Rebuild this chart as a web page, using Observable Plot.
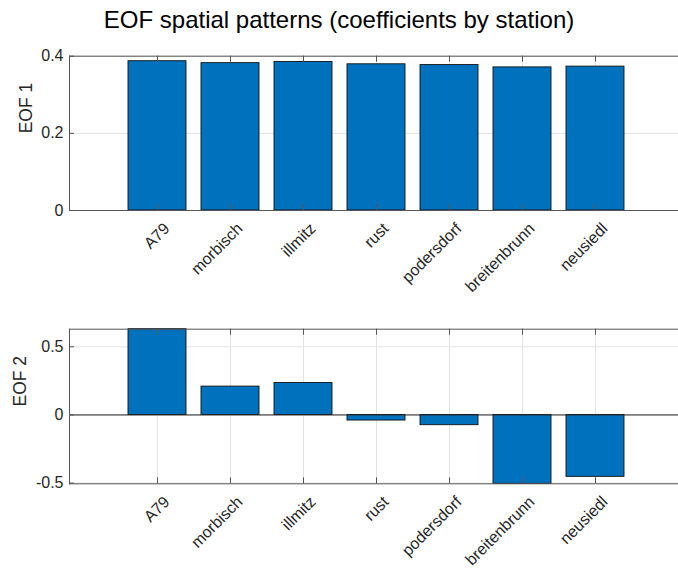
<!DOCTYPE html>
<html>
<head>
<meta charset="utf-8">
<script src="https://cdn.jsdelivr.net/npm/d3@7"></script>
<script src="https://cdn.jsdelivr.net/npm/@observablehq/plot@0.6"></script>
<style>
  html, body { margin: 0; padding: 0; background: #fff; overflow: hidden; }
  #fig { position: relative; width: 678px; height: 571px; overflow: hidden; background: #fff;
         font-family: "Liberation Sans", Arial, sans-serif; }
  #title { position: absolute; left: 0; top: 8px; width: 678px; text-align: center;
           font-size: 24px; line-height: 1; color: #000; z-index: 2; }
  .panel { position: absolute; left: 0; max-width: none !important; overflow: visible; }
</style>
</head>
<body>
<div id="fig">
  <div id="title">EOF spatial patterns (coefficients by station)</div>
</div>
<script>
// Stations and the first two EOF loading vectors
const stations = ["A79", "morbisch", "illmitz", "rust", "podersdorf", "breitenbrunn", "neusiedl"];
const eof1 = [0.387, 0.382, 0.385, 0.379, 0.377, 0.371, 0.373];
const eof2 = [0.629, 0.208, 0.234, -0.041, -0.075, -0.505, -0.454];
const eof1Ticks = [0, 0.2, 0.4];
const eof2Ticks = [-0.5, 0, 0.5];

const axisColor = "#262626";
const lineColor = "#555";
const gridColor = "#e2e2e2";
const barColor = "#0072BD";

function panel({values, ticks, domain, label, labelDx, top, height, marginTop, marginBottom}) {
  const width = 700, marginLeft = 69, marginRight = 16;
  const frameH = height - marginTop - marginBottom;
  const frameW = width - marginLeft - marginRight;
  const data = stations.map((s, i) => ({station: s, value: values[i]}));
  const chart = Plot.plot({
    width, height, marginLeft, marginRight, marginTop, marginBottom,
    style: {fontFamily: "'Liberation Sans', Arial, sans-serif", color: axisColor, background: "transparent",
            overflow: "visible", maxWidth: "none"},
    x: {type: "band", domain: stations, paddingInner: 0.2, paddingOuter: 0.783, label: null},
    y: {domain, label: null},
    marks: [
      Plot.gridY(ticks, {stroke: gridColor, strokeOpacity: 1}),
      Plot.ruleX(stations, {x: d => d, stroke: gridColor, strokeOpacity: 1}),
      Plot.barY(data, {x: "station", y: "value", fill: barColor, stroke: "#111", strokeWidth: 0.9}),
      Plot.ruleY([0], {stroke: axisColor, strokeWidth: 1}),
      // axes box: top and bottom edges plus the left edge
      Plot.ruleY(domain, {stroke: lineColor, strokeWidth: 1}),
      Plot.frame({anchor: "left", stroke: lineColor, strokeWidth: 1}),
      // inward tick marks
      Plot.tickX(stations, {x: d => d, stroke: lineColor, insetBottom: frameH - 6}),
      Plot.tickX(stations, {x: d => d, stroke: lineColor, insetTop: frameH - 6}),
      Plot.tickY(ticks, {y: d => d, stroke: lineColor, insetRight: frameW - 5}),
      Plot.axisY({ticks, tickSize: 0, tickPadding: 6, fontSize: 16, tickFormat: d => String(d), label: null}),
      Plot.axisX({tickSize: 0, tickPadding: 0, tickRotate: -45, textAnchor: "end", lineAnchor: "top",
                  dx: 5, dy: 11, fontSize: 16, label: null}),
      Plot.text([label], {frameAnchor: "left", rotate: -90, dx: labelDx, fontSize: 17.5, fill: axisColor})
    ]
  });
  chart.classList.add("panel");
  chart.style.top = top + "px";
  chart.style.maxWidth = "none";
  chart.style.width = width + "px";
  chart.style.height = height + "px";
  document.getElementById("fig").appendChild(chart);
}

panel({values: eof1, ticks: eof1Ticks, domain: [0, 0.4], label: "EOF 1", labelDx: -43,
       top: 0, height: 300, marginTop: 55.7, marginBottom: 90});
panel({values: eof2, ticks: eof2Ticks, domain: [-0.505, 0.629], label: "EOF 2", labelDx: -49.5,
       top: 280, height: 300, marginTop: 48.7, marginBottom: 96.7});
</script>
</body>
</html>
